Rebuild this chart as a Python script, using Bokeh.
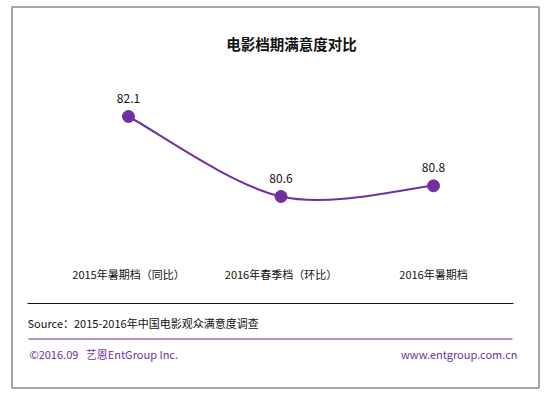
from bokeh.plotting import figure
from bokeh.models import Range1d
from bokeh.core.properties import value
from bokeh.embed import file_html
from bokeh.resources import INLINE

# ---- data ----
categories = ["2015年暑期档（同比）", "2016年春季档（环比）", "2016年暑期档"]
scores = [82.1, 80.6, 80.8]
score_labels = ["82.1", "80.6", "80.8"]
title_text = "电影档期满意度对比"
source_text = "Source：2015-2016年中国电影观众满意度调查"
copyright_text = "©2016.09\u00a0\u00a0\u00a0艺恩EntGroup Inc."
site_text = "www.entgroup.com.cn"

PURPLE = "#7030A0"
FONT = "Noto Sans CJK SC"

# ---- layout (pixel geometry of the page) ----
W, H = 541, 390
OX, OY = 0, 0
PX_PER_X = 152.5
PX_PER_Y = 80 / 1.5
X0_PX = 128          # page x of first category
Y_TOP_PX = 116       # page y of the first score

xs = -(X0_PX - OX) / PX_PER_X
xe = xs + W / PX_PER_X
ytop = scores[0] + (Y_TOP_PX - OY) / PX_PER_Y
ybot = ytop - H / PX_PER_Y


def dx(px):
    return xs + (px - OX) / PX_PER_X


def dy(py):
    return ytop - (py - OY) / PX_PER_Y


p = figure(width=W, height=H, output_backend="svg", toolbar_location=None,
           x_range=Range1d(xs, xe), y_range=Range1d(ybot, ytop),
           x_axis_location=None, y_axis_location=None, min_border=0)
p.grid.visible = False
p.outline_line_color = None
p.background_fill_color = "white"
p.border_fill_color = "white"

# outer border
p.quad(left=[dx(11.5)], right=[dx(538.5)], top=[dy(6.5)], bottom=[dy(387.5)],
       fill_color=None, line_color="#8a8a8a", line_width=1.5)

# title
p.text(x=[dx(291)], y=[dy(43)], text=[title_text], text_font=value(FONT),
       text_font_size="14.5px", text_font_style="bold", text_color="#111111",
       text_align="center", text_baseline="middle")

# smoothed line (Bezier through the data points)
idx = list(range(len(scores)))
n = len(scores)
bx0, by0, bx1, by1, cx0, cy0, cx1, cy1 = [], [], [], [], [], [], [], []
for i in range(n - 1):
    p0 = (idx[max(i - 1, 0)], scores[max(i - 1, 0)])
    p1 = (idx[i], scores[i])
    p2 = (idx[i + 1], scores[i + 1])
    p3 = (idx[min(i + 2, n - 1)], scores[min(i + 2, n - 1)])
    bx0.append(p1[0]); by0.append(p1[1])
    bx1.append(p2[0]); by1.append(p2[1])
    cx0.append(p1[0] + (p2[0] - p0[0]) / 6); cy0.append(p1[1] + (p2[1] - p0[1]) / 6)
    cx1.append(p2[0] - (p3[0] - p1[0]) / 6); cy1.append(p2[1] - (p3[1] - p1[1]) / 6)
p.bezier(x0=bx0, y0=by0, x1=bx1, y1=by1, cx0=cx0, cy0=cy0, cx1=cx1, cy1=cy1,
         line_color=PURPLE, line_width=2)

p.scatter(x=idx, y=scores, size=12, fill_color=PURPLE, line_color=PURPLE)

# data labels
p.text(x=idx, y=[s + 18.5 / PX_PER_Y for s in scores], text=score_labels,
       text_font=value(FONT), text_font_size="12px", text_color="#111111",
       text_align="center", text_baseline="middle")

# category labels
p.text(x=idx, y=[dy(273)] * n, text=categories, text_font=value(FONT),
       text_font_size="11px", text_color="#111111",
       text_align="center", text_baseline="middle")

# source separator and text
p.segment(x0=[dx(27)], y0=[dy(303)], x1=[dx(513)], y1=[dy(303)],
          line_color="#111111", line_width=1.2)
p.text(x=[dx(27)], y=[dy(322)], text=[source_text], text_font=value(FONT),
       text_font_size="11px", text_color="#111111",
       text_align="left", text_baseline="middle")

# footer
p.segment(x0=[dx(28)], y0=[dy(338.5)], x1=[dx(512)], y1=[dy(338.5)],
          line_color="#6a2a95", line_width=1.2)
p.text(x=[dx(29)], y=[dy(353)], text=[copyright_text], text_font=value(FONT),
       text_font_size="11px", text_color=PURPLE,
       text_align="left", text_baseline="middle")
p.text(x=[dx(517)], y=[dy(353)], text=[site_text], text_font=value(FONT),
       text_font_size="11px", text_color=PURPLE,
       text_align="right", text_baseline="middle")

open("out.html", "w").write(file_html(p, INLINE))
